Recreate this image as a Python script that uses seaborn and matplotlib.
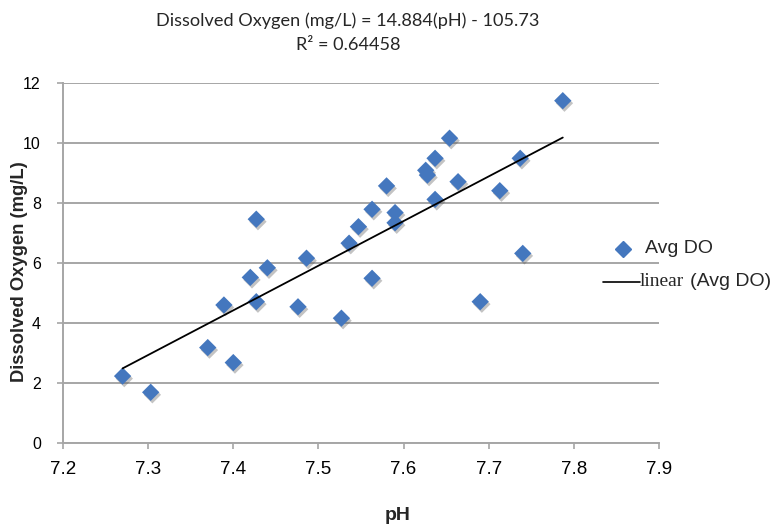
import numpy as np
import pandas as pd
import matplotlib
matplotlib.use("Agg")
import matplotlib.pyplot as plt
import matplotlib.patheffects as pe
from matplotlib.lines import Line2D
import seaborn as sns

ph = [7.270, 7.303, 7.370, 7.400, 7.389, 7.420, 7.427, 7.427, 7.440, 7.476,
      7.486, 7.527, 7.536, 7.547, 7.563, 7.563, 7.580, 7.590, 7.590, 7.626,
      7.628, 7.637, 7.654, 7.637, 7.664, 7.713, 7.737, 7.740, 7.690, 7.787]
avg_do = [2.22, 1.68, 3.17, 2.67, 4.59, 5.51, 4.70, 7.45, 5.83, 4.53,
          6.15, 4.15, 6.65, 7.20, 7.78, 5.48, 8.56, 7.67, 7.33, 9.08,
          8.92, 9.48, 10.15, 8.11, 8.70, 8.40, 9.48, 6.31, 4.70, 11.40]
slope = 14.884
intercept = -105.73
r_squared = 0.64458
x_ticks = [7.2, 7.3, 7.4, 7.5, 7.6, 7.7, 7.8, 7.9]
y_ticks = [0, 2, 4, 6, 8, 10, 12]

df = pd.DataFrame({"pH": ph, "DO": avg_do})
fit_x = np.array([min(ph), max(ph)])
fit_df = pd.DataFrame({"pH": fit_x, "DO": slope * fit_x + intercept})

sns.set_theme(style="white")
plt.rcParams["font.family"] = ["Liberation Sans", "DejaVu Sans"]

W, H = 783, 527
fig = plt.figure(figsize=(W / 100, H / 100), dpi=100)
ax = fig.add_axes([63 / W, 1 - 442.7 / H, (659 - 63) / W, (442.7 - 82.7) / H])

blue = "#4477BE"
grid_c = "#A6A6A6"

sns.lineplot(data=fit_df, x="pH", y="DO", ax=ax, color="black", lw=1.3, zorder=4)
sns.scatterplot(data=df, x="pH", y="DO", ax=ax, marker="D", s=78, color=blue,
                edgecolor="none", linewidth=0, zorder=3)
for coll in ax.collections:
    coll.set_path_effects([pe.SimplePatchShadow(offset=(1.2, -1.8), shadow_rgbFace="#555555", alpha=0.35),
                           pe.Normal()])

ax.set_xlim(7.2, 7.9)
ax.set_ylim(0, 12)
ax.set_xticks(x_ticks)
ax.set_xticklabels([f"{v:.1f}" for v in x_ticks], fontsize=13.5)
ax.set_yticks(y_ticks)
ax.set_yticklabels([str(v) for v in y_ticks], fontsize=11.5)
ax.yaxis.grid(True, color=grid_c, lw=1.4)
ax.xaxis.grid(False)
for s in ["top", "right"]:
    ax.spines[s].set_visible(False)
for s in ["left", "bottom"]:
    ax.spines[s].set_color(grid_c)
    ax.spines[s].set_linewidth(1.4)
ax.tick_params(axis="both", which="both", direction="out", length=4, width=1.2, color=grid_c,
               bottom=True, left=True, labelcolor="black")
ax.tick_params(axis="x", pad=9)
ax.tick_params(axis="y", pad=12)
ax.set_xlabel("")
ax.set_ylabel("")

fig.text(398 / W, 1 - 515 / H, "pH", ha="center", va="center", fontsize=14, fontweight="bold")
fig.text(20 / W, 1 - 272 / H, "Dissolved Oxygen (mg/L)", ha="center", va="center",
         rotation=90, fontsize=13.2, fontweight="bold")

t1 = fig.text(348 / W, 1 - 21 / H, f"Dissolved Oxygen (mg/L) = {slope}(pH) - {-intercept}",
              ha="center", va="center", fontsize=12, family=["Lato", "DejaVu Sans"])
t2 = fig.text(348 / W, 1 - 45 / H, f"R² = {r_squared}", ha="center", va="center",
              fontsize=12, family=["Lato", "DejaVu Sans"])
fig.canvas.draw()
r = fig.canvas.get_renderer()
w1 = t1.get_window_extent(r).width
scale = 382 / w1
t1.set_fontsize(12 * scale)
t2.set_fontsize(12 * scale)

# legend
fig.add_artist(Line2D([623 / W], [1 - 249 / H], transform=fig.transFigure, marker="D",
                      markersize=8, color=blue, lw=0))
fig.text(645 / W, 1 - 249 / H, "Avg DO", ha="left", va="center", fontsize=14)
fig.add_artist(Line2D([603 / W, 640 / W], [1 - 282 / H, 1 - 282 / H], transform=fig.transFigure,
                      color="black", lw=1.2))
fig.text(640 / W, 1 - 282 / H, "linear", ha="left", va="center", fontsize=14,
         family=["Liberation Serif", "DejaVu Serif"])
fig.text(690 / W, 1 - 282 / H, "(Avg DO)", ha="left", va="center", fontsize=14)

fig.savefig("out.png", dpi=100)
